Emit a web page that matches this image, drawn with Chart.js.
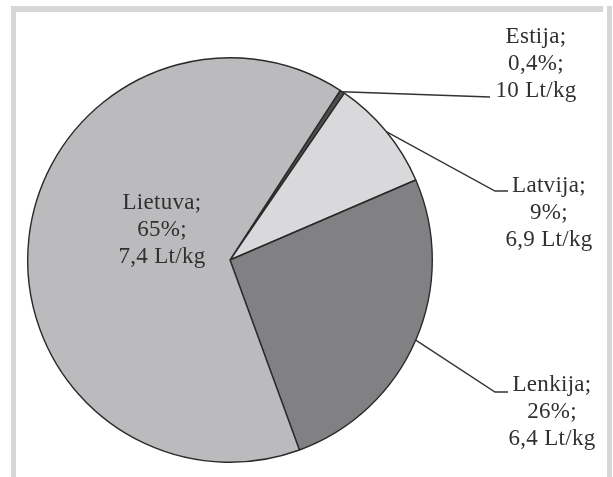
<!DOCTYPE html>
<html>
<head>
<meta charset="utf-8">
<script src="https://cdn.jsdelivr.net/npm/chart.js@4.4.1/dist/chart.umd.min.js"></script>
<style>
  html, body { margin: 0; padding: 0; background: #fff; }
  #wrap { width: 613px; height: 477px; position: relative; }
</style>
</head>
<body>
<div id="wrap"><canvas id="myChart"></canvas></div>
<script>
// Chart data
let countries = ['Estija', 'Latvija', 'Lenkija', 'Lietuva'];
let shares = [0.4, 9, 26, 65];          // %
let prices = [10, 6.9, 6.4, 7.4];       // Lt/kg
let sliceColors = ['#4d4d4f', '#d9d9db', '#818184', '#bbbbbd'];

// Where each label block sits (centre x, first line y) and where its leader line ends
let labelPos = [
    { x: 536, y: 37, line: [[490, 97]] },
    { x: 549, y: 186, line: [[495, 191], [508, 191]] },
    { x: 552, y: 385, line: [[495, 392], [508, 392]] },
    { x: 162, y: 203, line: null }
];

function fmt(v) {
    return String(v).replace('.', ',');
}

// Frame round the chart (left, top, right bars)
const framePlugin = {
    id: 'frame',
    beforeDraw(chart) {
        let ctx = chart.ctx;
        ctx.save();
        ctx.fillStyle = '#d7d7d7';
        ctx.fillRect(11, 6, 602 - 11 + 1, 6);
        ctx.fillRect(11, 6, 5, 477);
        ctx.fillRect(607, 6, 5, 477);
        ctx.restore();
    }
};

// Labels with leader lines
const labelPlugin = {
    id: 'sliceLabels',
    afterDraw(chart) {
        let ctx = chart.ctx;
        let arcs = chart.getDatasetMeta(0).data;
        ctx.save();
        arcs.forEach((arc, i) => {
            let pos = labelPos[i];
            if (pos.line) {
                let mid = (arc.startAngle + arc.endAngle) / 2;
                let sx = arc.x + Math.cos(mid) * arc.outerRadius;
                let sy = arc.y + Math.sin(mid) * arc.outerRadius;
                ctx.strokeStyle = '#333';
                ctx.lineWidth = 1.4;
                ctx.beginPath();
                ctx.moveTo(sx, sy);
                pos.line.forEach(p => ctx.lineTo(p[0], p[1]));
                ctx.stroke();
            }
            let lines = [countries[i] + ';', fmt(shares[i]) + '%;', fmt(prices[i]) + ' Lt/kg'];
            ctx.fillStyle = '#303030';
            ctx.font = '23px "Liberation Serif"';
            ctx.letterSpacing = '0.3px';
            ctx.textAlign = 'center';
            ctx.textBaseline = 'middle';
            lines.forEach((t, k) => ctx.fillText(t, pos.x, pos.y + k * 27));
        });
        ctx.restore();
    }
};

let ctx = document.getElementById('myChart').getContext('2d');
let chart = new Chart(ctx, {
    type: 'pie',
    data: {
        labels: countries,
        datasets: [{
            data: shares,
            backgroundColor: sliceColors,
            borderColor: '#2a2a2a',
            borderWidth: 1.4
        }]
    },
    options: {
        responsive: true,
        maintainAspectRatio: false,
        animation: false,
        rotation: 33,
        layout: {
            padding: { left: 27, right: 180, top: 57, bottom: 14 }
        },
        plugins: {
            legend: { display: false },
            tooltip: { enabled: false },
            title: { display: false }
        }
    },
    plugins: [framePlugin, labelPlugin]
});
</script>
</body>
</html>
